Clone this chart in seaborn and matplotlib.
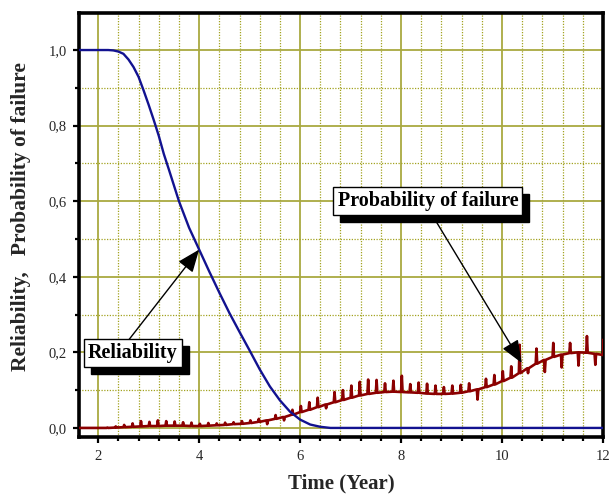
import numpy as np
import pandas as pd
import matplotlib
matplotlib.use("Agg")
import matplotlib.pyplot as plt
from matplotlib.patches import Rectangle
from matplotlib.transforms import IdentityTransform
from matplotlib.ticker import MultipleLocator, FixedLocator
import seaborn as sns

# ---------------- data ----------------
rel_years = [1.62, 2.0, 2.2, 2.3, 2.4, 2.5, 2.6, 2.7, 2.8, 2.9, 3.0, 3.1, 3.2, 3.3,
             3.4, 3.5, 3.6, 3.8, 4.0, 4.2, 4.4, 4.6, 4.8, 5.0, 5.2, 5.4, 5.6,
             5.8, 6.0, 6.2, 6.4, 6.6, 7.0, 8.0, 9.0, 10.0, 11.0, 12.0]
rel_values = [1.0, 1.0, 1.0, 0.999, 0.996, 0.99, 0.975, 0.955, 0.929, 0.893, 0.855,
              0.815, 0.773, 0.725, 0.684, 0.642, 0.600, 0.530, 0.472, 0.414,
              0.358, 0.304, 0.254, 0.205, 0.155, 0.110, 0.073, 0.043, 0.022,
              0.009, 0.003, 0.0, 0.0, 0.0, 0.0, 0.0, 0.0, 0.0]

fail_years = [2.000, 2.167, 2.333, 2.500, 2.667, 2.833, 3.000, 3.167, 3.333, 3.500,
              3.667, 3.833, 4.000, 4.167, 4.333, 4.500, 4.667, 4.833, 5.000, 5.167,
              5.333, 5.500, 5.667, 5.833, 6.000, 6.167, 6.333, 6.500, 6.667, 6.833,
              7.000, 7.167, 7.333, 7.500, 7.667, 7.833, 8.000, 8.167, 8.333, 8.500,
              8.667, 8.833, 9.000, 9.167, 9.333, 9.500, 9.667, 9.833, 10.000, 10.167,
              10.333, 10.500, 10.667, 10.833, 11.000, 11.167, 11.333, 11.500, 11.667,
              11.833, 12.000]
fail_base = [0.000, 0.000, 0.001, 0.002, 0.003, 0.004, 0.005, 0.005, 0.006, 0.006,
             0.006, 0.005, 0.005, 0.006, 0.007, 0.008, 0.010, 0.011, 0.013, 0.016,
             0.020, 0.024, 0.029, 0.035, 0.042, 0.048, 0.055, 0.062, 0.068, 0.074,
             0.080, 0.086, 0.090, 0.093, 0.095, 0.096, 0.095, 0.094, 0.093, 0.091,
             0.090, 0.090, 0.091, 0.093, 0.097, 0.102, 0.108, 0.115, 0.124, 0.133,
             0.145, 0.158, 0.170, 0.180, 0.188, 0.194, 0.198, 0.200, 0.199, 0.196,
             0.193]
fail_spike = [0.000, 0.001, 0.004, 0.008, 0.012, 0.018, 0.016, 0.020, 0.018, 0.017,
              0.015, 0.014, 0.011, 0.013, 0.012, 0.014, 0.015, 0.018, 0.020, 0.024,
              0.010, 0.034, 0.020, 0.048, 0.058, 0.068, 0.080, 0.052, 0.095, 0.100,
              0.112, 0.122, 0.128, 0.127, 0.118, 0.125, 0.138, 0.116, 0.120, 0.117,
              0.112, 0.108, 0.112, 0.114, 0.118, 0.075, 0.130, 0.140, 0.150, 0.163,
              0.220, 0.145, 0.210, 0.148, 0.225, 0.160, 0.225, 0.165, 0.243, 0.167,
              0.235]
fail_start = [1.62, 0.0]

x_ticks = [2, 4, 6, 8, 10, 12]
y_ticks = [0.0, 0.2, 0.4, 0.6, 0.8, 1.0]
y_tick_labels = ["0,0", "0,2", "0,4", "0,6", "0,8", "1,0"]

# ---------------- build line tables ----------------
rel_df = pd.DataFrame({"year": rel_years, "value": rel_values})

fx, fy = [fail_start[0]], [fail_start[1]]
for t, b, s in zip(fail_years, fail_base, fail_spike):
    fx += [t, t + 0.015, t + 0.03]
    fy += [b, s, b]
fail_df = pd.DataFrame({"year": fx, "value": fy})

# ---------------- style ----------------
sns.set_style("white")
plt.rcParams["font.family"] = ["Liberation Serif", "DejaVu Serif"]

fig = plt.figure(figsize=(6.10, 4.96), dpi=100)
ax = fig.add_axes([79 / 610, 1 - 437 / 496, (603 - 79) / 610, (437 - 13) / 496])

sns.lineplot(data=fail_df, x="year", y="value", ax=ax, color="#8b0000",
             lw=1.9, sort=False, estimator=None, zorder=3)
sns.lineplot(data=rel_df, x="year", y="value", ax=ax, color="#121290",
             lw=1.7, sort=False, estimator=None, zorder=4)

ax.set_xlim(1.62, 12.0)
ax.set_ylim(-0.024, 1.098)

ax.xaxis.set_major_locator(FixedLocator(x_ticks))
ax.xaxis.set_minor_locator(MultipleLocator(0.4))
ax.yaxis.set_major_locator(FixedLocator(y_ticks))
ax.set_yticklabels(y_tick_labels)
ax.yaxis.set_minor_locator(MultipleLocator(0.1))

ax.grid(which="major", color="#a9a940", lw=1.3, ls="-", zorder=0)
ax.grid(which="minor", color="#a3a320", lw=0.9, ls=(0, (1, 1.2)), zorder=0)
ax.set_axisbelow(True)

for sp in ax.spines.values():
    sp.set_visible(True)
    sp.set_color("black")
    sp.set_linewidth(2.6)

ax.tick_params(which="both", direction="out", color="black", width=1.6,
               bottom=True, left=True, top=False, right=False)
ax.tick_params(which="major", length=4, labelsize=10.5, pad=5)
ax.tick_params(which="minor", length=3)

ax.set_xlabel("Time (Year)", fontsize=15, fontweight="bold", labelpad=8)
ax.set_ylabel("Reliability,   Probability of failure", fontsize=15.5,
              fontweight="bold")
ax.yaxis.set_label_coords(-0.091, 0.521)

# ---------------- annotations ----------------
arrow_kw = dict(arrowstyle="-|>,head_length=0.7,head_width=0.28", color="black",
                lw=1.0, mutation_scale=20, shrinkA=0, shrinkB=0)
ax.annotate("", xy=(4.0, 0.472), xytext=(2.6, 0.232), arrowprops=arrow_kw, zorder=6)
ax.annotate("", xy=(10.39, 0.172), xytext=(8.7, 0.545), arrowprops=arrow_kw, zorder=6)

box_texts = []
for x, y, s in [(2.69, 0.198, "Reliability"), (8.53, 0.600, "Probability of failure")]:
    box_texts.append(ax.text(x, y, s, fontsize=14.5, fontweight="bold", ha="center",
                             va="center", color="black", zorder=8,
                             bbox=dict(boxstyle="square,pad=0.2", fc="white",
                                       ec="black", lw=1)))

# drop shadows behind the label boxes (7 px right / down)
fig.canvas.draw()
for t in box_texts:
    bb = t.get_bbox_patch().get_window_extent()
    shadow = Rectangle((bb.x0 + 7, bb.y0 - 7), bb.width, bb.height,
                       fc="black", ec="black", zorder=7)
    ax.add_artist(shadow)
    shadow.set_transform(IdentityTransform())

fig.savefig("out.png", dpi=100)
